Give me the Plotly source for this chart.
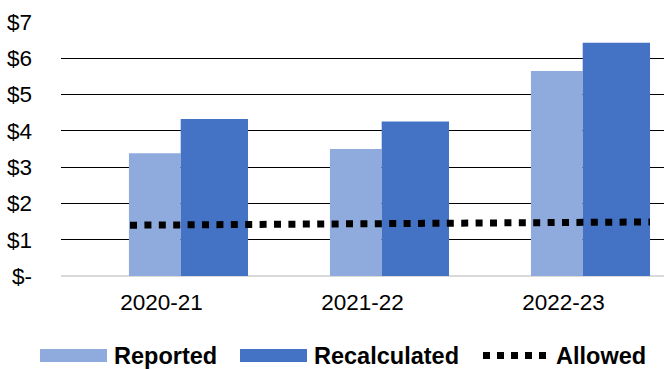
import plotly.graph_objects as go

# ---- data ----
categories = ["2020-21", "2021-22", "2022-23"]
reported = [3.38, 3.50, 5.65]
recalculated = [4.33, 4.26, 6.43]
allowed = [1.40, 1.44, 1.49]
series_names = ["Reported", "Recalculated", "Allowed"]
y_tickvals = [0, 1, 2, 3, 4, 5, 6, 7]
y_ticktext = ["$-", "$1", "$2", "$3", "$4", "$5", "$6", "$7"]

# ---- style ----
C_REP = "#8FAADC"
C_REC = "#4472C4"
FONT = "Liberation Sans, Arial, sans-serif"
W, H = 666, 369
ML, MR, MT, MB = 61, 2, 22, 93
PW, PH = W - ML - MR, H - MT - MB


def px(x):
    return (x - ML) / PW


def py(y):
    return (H - MB - y) / PH


fig = go.Figure()
fig.add_trace(go.Bar(x=categories, y=reported, name=series_names[0],
                     marker=dict(color=C_REP, line=dict(width=0)),
                     offset=-0.162, width=0.2575, showlegend=False))
fig.add_trace(go.Bar(x=categories, y=recalculated, name=series_names[1],
                     marker=dict(color=C_REC, line=dict(width=0)),
                     offset=0.0955, width=0.335, showlegend=False))
fig.add_trace(go.Scatter(x=categories, y=allowed, name=series_names[2],
                         mode="lines", xaxis="x2",
                         line=dict(color="black", width=7, dash="7px,7.4px"),
                         showlegend=False))

fig.update_layout(
    width=W, height=H,
    margin=dict(l=ML, r=MR, t=MT, b=MB, pad=0),
    paper_bgcolor="white", plot_bgcolor="white",
    barmode="overlay",
    font=dict(family=FONT, size=22, color="black"),
    xaxis=dict(type="category", range=[-0.5, 2.5], showgrid=False,
               showline=False, ticks="", ticklabelstandoff=10,
               tickfont=dict(size=22.5, color="black")),
    xaxis2=dict(type="category", overlaying="x", range=[-0.2655, 2.054],
                visible=False),
    yaxis=dict(range=[0, 7.001], tickvals=y_tickvals, ticktext=y_ticktext,
               showgrid=True, gridcolor="black", gridwidth=1,
               zeroline=True, zerolinecolor="#d9d9d9", zerolinewidth=2,
               showline=False, ticks="", ticklabelstandoff=28,
               tickfont=dict(size=22.5, color="black")),
)

# ---- legend drawn manually ----
leg_y = 355.5
shapes = [
    dict(type="rect", xref="paper", yref="paper",
         x0=px(40), x1=px(107), y0=py(362), y1=py(349),
         fillcolor=C_REP, line=dict(width=0)),
    dict(type="rect", xref="paper", yref="paper",
         x0=px(240), x1=px(307), y0=py(362), y1=py(349),
         fillcolor=C_REC, line=dict(width=0)),
    dict(type="line", xref="paper", yref="paper",
         x0=px(483), x1=px(550), y0=py(leg_y), y1=py(leg_y),
         line=dict(color="black", width=7, dash="7px,7px")),
]
annotations = []
for name, x in zip(series_names, [112, 312, 554]):
    annotations.append(dict(text="<b>%s</b>" % name, xref="paper", yref="paper",
                            x=px(x), y=py(leg_y), xanchor="left", yanchor="middle",
                            showarrow=False,
                            font=dict(family=FONT, size=23.5, color="black")))
fig.update_layout(shapes=shapes, annotations=annotations)

fig.write_html("out.html")
